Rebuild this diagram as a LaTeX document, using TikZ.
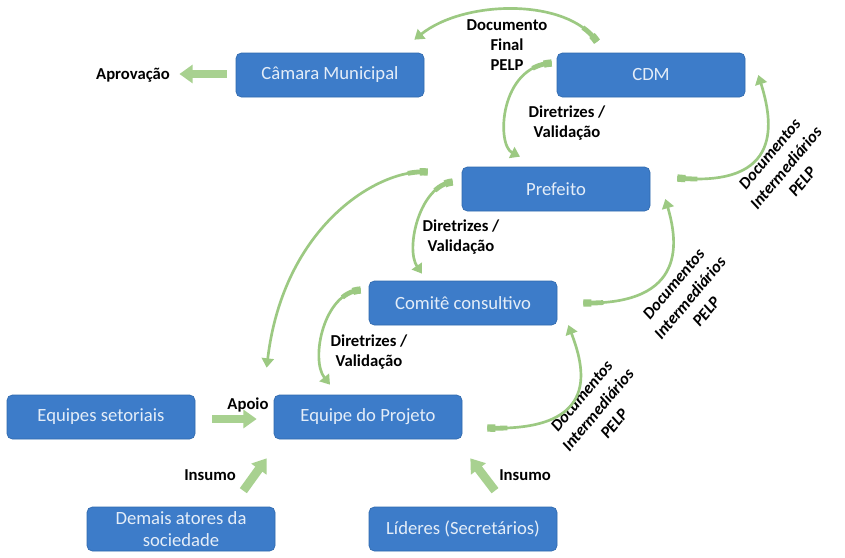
\documentclass[tikz,border=0pt]{standalone}
\usepackage{fontspec}
\setmainfont{Carlito}
\usepackage{tikz}
\usetikzlibrary{arrows.meta,calc}
\definecolor{actorfill}{HTML}{3D7CC9}
\definecolor{actordraw}{HTML}{2F69AD}
\definecolor{actortext}{HTML}{E4EDF8}
\definecolor{flowgreen}{HTML}{9CC982}
\definecolor{blockgreen}{HTML}{A8D190}
\tikzset{
  actor/.style={
    rounded corners=4pt,
    draw=actordraw,
    line width=0.5pt,
    fill=actorfill,
    text=actortext,
    align=center,
    font=\fontsize{14}{16.5}\selectfont,
    inner sep=2pt,
    minimum width=141pt,
    minimum height=33pt
  },
  flowedge/.style={
    draw=flowgreen,
    line width=2pt,
    -{Triangle[width=9pt,length=7pt]},
    preaction={draw=flowgreen, line width=5.5pt, dash pattern=on 6pt off 2000pt, -},
    preaction={draw=flowgreen, line width=3.6pt, dash pattern=on 15pt off 2000pt, -}
  },
  blockedge/.style={draw=blockgreen, line width=6.5pt, -{Triangle[width=13.5pt,length=10pt]}},
  edgelabel/.style={font=\bfseries\fontsize{12.5}{15}\selectfont, align=center, inner sep=1pt},
  sidelabel/.style={font=\bfseries\itshape\fontsize{12.5}{16}\selectfont, align=center, inner sep=1pt, rotate=50}
}

\begin{document}
\begin{tikzpicture}[x=0.75pt,y=0.75pt]
\path[use as bounding box] (0,0) rectangle (845,-557);
\fill[white] (0,0) rectangle (845,-557);

\node[actor] (cam) at (330,-75) {Câmara Municipal};
\node[actor] (cdm) at (651,-75) {CDM};
\node[actor] (pref) at (556,-189) {Prefeito};
\node[actor] (com) at (463,-303) {Comitê consultivo};
\node[actor] (eqset) at (101,-417) {Equipes setoriais};
\node[actor] (eqp) at (368,-417) {Equipe do Projeto};
\node[actor] (demais) at (181,-529) {Demais atores da\\sociedade};
\node[actor] (lid) at (463,-529) {Líderes (Secretários)};

\node[edgelabel] (aprov) at (133,-75) {Aprovação};
\node[edgelabel] (docfinal) at (507,-45) {Documento\\Final\\PELP};
\node[edgelabel] (dirA) at (567,-123) {Diretrizes /\\Validação};
\node[edgelabel] (dirB) at (461,-237) {Diretrizes /\\Validação};
\node[edgelabel] (dirC) at (369,-352) {Diretrizes /\\Validação};
\node[edgelabel] (apoio) at (248,-405) {Apoio};
\node[edgelabel] (insA) at (210,-475) {Insumo};
\node[edgelabel] (insB) at (525,-475) {Insumo};
\node[sidelabel] (docA) at (786,-168) {Documentos\\Intermediários\\PELP};
\node[sidelabel] (docB) at (690,-298) {Documentos\\Intermediários\\PELP};
\node[sidelabel] (docC) at (598,-410) {Documentos\\Intermediários\\PELP};

% top-down flow
\draw[flowedge] ($(cdm.north)+(-54,11)$) .. controls +(-30,44) and +(50,40) .. ($(cam.north east)+(-10,13)$);
\draw[flowedge] ($(cdm.west)+(-5,12)$) .. controls +(-52,-3) and +(-24,12) .. ($(pref.north)+(-36,10)$);
\draw[flowedge] ($(pref.west)+(-34,17)$) .. controls +(-48,4) and +(17,143) .. ($(eqp.north west)+(-7,27)$);
\draw[flowedge] ($(pref.west)+(-9,7)$) .. controls +(-33,-3) and +(-17,25) .. ($(com.north)+(-41,7)$);
\draw[flowedge] ($(com.west)+(-8,13)$) .. controls +(-37,-2) and +(-20,25) .. ($(eqp.north)+(-38,10)$);

% bottom-up flow
\draw[flowedge] ($(eqp.east)+(25,-11)$) .. controls +(117,-4) and +(15,-40) .. ($(com.east)+(11,-22)$);
\draw[flowedge] ($(com.east)+(26,0)$) .. controls +(105,-2) and +(12,-41) .. ($(pref.east)+(15,-10)$);
\draw[flowedge] ($(pref.east)+(27,11)$) .. controls +(108,-10) and +(14,-45) .. ($(cdm.east)+(13,0)$);

\draw[blockedge] ($(cam.west)+(-9,1)$) -- ($(aprov.east)+(8,1)$);
\draw[blockedge] ($(eqset.east)+(17,-2)$) -- ($(eqp.west)+(-17,-2)$);
\draw[blockedge] ($(demais.north east)+(-32,16)$) -- ($(eqp.south west)+(-7,-19)$);
\draw[blockedge] ($(lid.north)+(32,16)$) -- ($(eqp.south east)+(8,-19)$);

\end{tikzpicture}
\end{document}
